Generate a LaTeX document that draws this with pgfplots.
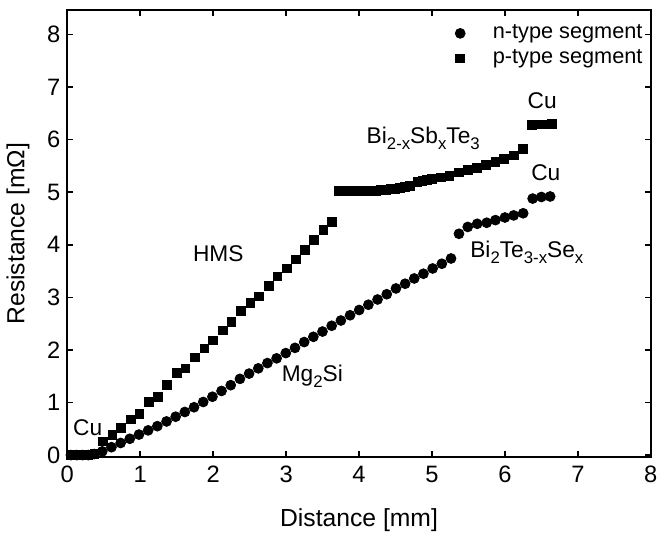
\documentclass[border=0pt]{standalone}
\usepackage{fontspec}
\setmainfont{Liberation Sans}
\usepackage{pgfplots}
\pgfplotsset{compat=1.18}
\newcommand{\sub}[1]{\raisebox{-0.5ex}{\fontsize{8.5}{9}\selectfont #1}}
\begin{document}
\begin{tikzpicture}
\begin{axis}[
  scale only axis,
  width=295.5pt, height=226.5pt,
  xmin=0, xmax=8, ymin=-0.04, ymax=8.47,
  xtick={0,1,...,8}, ytick={0,1,...,8},
  tick align=inside, tick pos=both,
  major tick length=3pt,
  axis line style={line width=1pt},
  every tick/.style={line width=0.8pt, black},
  /pgf/number format/assume math mode=true,
  ticklabel style={font=\fontsize{12}{14}\selectfont},
  xticklabel style={yshift=-1pt},
  label style={font=\fontsize{12.5}{14}\selectfont},
  xlabel={Distance [mm]},
  ylabel={Resistance [mΩ]},
  xlabel style={yshift=-6pt},
  ylabel style={yshift=2pt},
  legend style={draw=none, fill=none, at={(1.0,0.985)}, anchor=north east, xshift=1pt,
    font=\fontsize{11}{13}\selectfont, row sep=0pt,
    /tikz/every odd column/.append style={column sep=12pt}},
  legend cell align=left,
]
\addplot[only marks, mark=*, mark size=2.5pt, black] coordinates {
(0.05,0) (0.13,0) (0.21,0) (0.29,0) (0.37,0.02)
(0.480,0.07) (0.606,0.15) (0.732,0.23) (0.857,0.31) (0.983,0.39)
(1.109,0.47) (1.235,0.55) (1.361,0.64) (1.486,0.73) (1.612,0.82)
(1.738,0.91) (1.864,1.01) (1.990,1.11) (2.115,1.22) (2.241,1.33)
(2.367,1.45) (2.493,1.55) (2.619,1.65) (2.744,1.75) (2.870,1.84)
(2.996,1.94) (3.122,2.04) (3.248,2.15) (3.374,2.25) (3.499,2.35)
(3.625,2.46) (3.751,2.56) (3.877,2.66) (4.002,2.76) (4.128,2.86)
(4.254,2.96) (4.380,3.06) (4.506,3.17) (4.632,3.26) (4.757,3.36)
(4.883,3.45) (5.009,3.55) (5.135,3.64) (5.261,3.74)
(5.37,4.21) (5.49,4.34) (5.62,4.40) (5.75,4.42) (5.87,4.47) (6.00,4.52) (6.12,4.56) (6.25,4.60)
(6.38,4.88) (6.50,4.91) (6.62,4.92)
};
\addlegendentry{n-type segment}
\addplot[only marks, mark=square*, mark size=2.2pt, black] coordinates {
(0.05,0) (0.13,0) (0.21,0) (0.29,0) (0.37,0.02)
(0.49,0.26) (0.62,0.39) (0.74,0.52) (0.87,0.68) (0.99,0.79)
(1.12,1.01) (1.24,1.11) (1.37,1.33) (1.50,1.56) (1.62,1.65)
(1.75,1.86) (1.88,2.03) (2.00,2.18) (2.13,2.37) (2.25,2.54)
(2.38,2.74) (2.51,2.89) (2.63,3.02) (2.76,3.22) (2.88,3.40)
(3.01,3.55) (3.13,3.72) (3.26,3.90) (3.38,4.09) (3.51,4.28) (3.63,4.43)
(3.72,5.02) (3.78,5.02) (3.85,5.02) (3.91,5.02) (3.98,5.02) (4.04,5.02)
(4.11,5.03) (4.17,5.03) (4.24,5.03) (4.30,5.04) (4.37,5.05) (4.43,5.06)
(4.50,5.07) (4.56,5.08) (4.63,5.10) (4.70,5.12) (4.80,5.20) (4.87,5.22)
(4.93,5.23) (5.00,5.25) (5.12,5.28) (5.24,5.31) (5.37,5.38) (5.49,5.43)
(5.62,5.47) (5.74,5.52) (5.87,5.58) (5.99,5.64) (6.12,5.70) (6.25,5.82)
(6.37,6.28) (6.46,6.29) (6.55,6.29) (6.64,6.30)
};
\addlegendentry{p-type segment}
\node[font=\fontsize{11.5}{13}\selectfont] at (axis cs:0.28,0.53) {Cu};
\node[font=\fontsize{11.5}{13}\selectfont] at (axis cs:2.07,3.83) {HMS};
\node[font=\fontsize{11.5}{13}\selectfont] at (axis cs:4.88,6.03) {Bi\sub{2-x}Sb\sub{x}Te\sub{3}};
\node[font=\fontsize{11.5}{13}\selectfont] at (axis cs:6.51,6.74) {Cu};
\node[font=\fontsize{11.5}{13}\selectfont] at (axis cs:6.56,5.37) {Cu};
\node[font=\fontsize{11.5}{13}\selectfont] at (axis cs:6.30,3.85) {Bi\sub{2}Te\sub{3-x}Se\sub{x}};
\node[font=\fontsize{11.5}{13}\selectfont] at (axis cs:3.36,1.50) {Mg\sub{2}Si};
\end{axis}
\path (current axis.north) ++(0,5pt) coordinate (topext);
\end{tikzpicture}
\end{document}
